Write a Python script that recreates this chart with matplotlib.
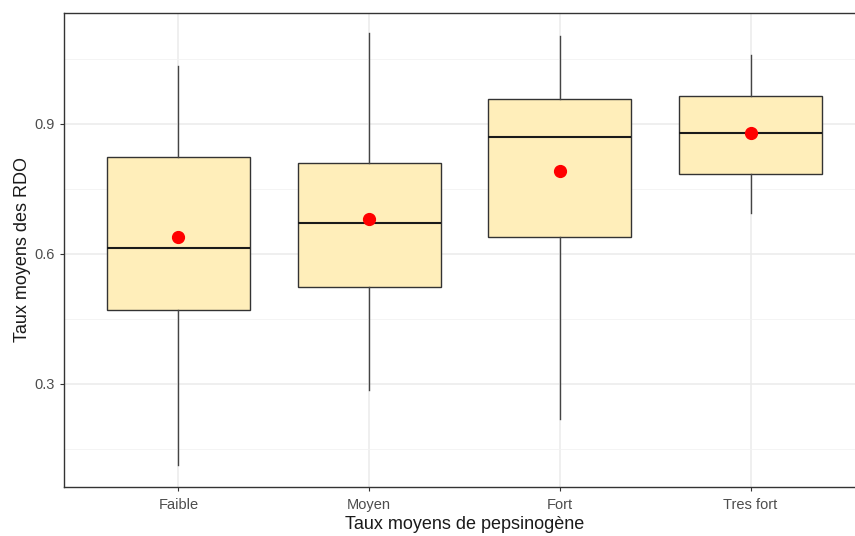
import matplotlib
matplotlib.use("Agg")
import matplotlib.pyplot as plt
from matplotlib.ticker import FixedLocator

plt.rcParams["font.family"] = ["Liberation Sans", "DejaVu Sans"]

# Data
categories = ["Faible", "Moyen", "Fort", "Tres fort"]
whisker_low = [0.113, 0.286, 0.219, 0.695]
q1 = [0.471, 0.524, 0.639, 0.785]
median = [0.614, 0.672, 0.870, 0.879]
q3 = [0.824, 0.810, 0.958, 0.965]
whisker_high = [1.034, 1.110, 1.103, 1.059]
means = [0.639, 0.681, 0.792, 0.879]

positions = list(range(1, len(categories) + 1))

stats = []
for i, name in enumerate(categories):
    stats.append({
        "label": name,
        "whislo": whisker_low[i],
        "q1": q1[i],
        "med": median[i],
        "q3": q3[i],
        "whishi": whisker_high[i],
        "fliers": [],
    })

fig = plt.figure(figsize=(8.55, 5.36), dpi=100)
ax = fig.add_axes([64 / 855, 49 / 536, 801 / 855, 474 / 536])

# grid first, theme_bw style
ax.set_axisbelow(True)
ax.yaxis.set_major_locator(FixedLocator([0.3, 0.6, 0.9]))
ax.yaxis.set_minor_locator(FixedLocator([0.15, 0.45, 0.75, 1.05]))
ax.grid(which="major", color="#EBEBEB", linewidth=1.1)
ax.grid(which="minor", axis="y", color="#F2F2F2", linewidth=0.6)

bp = ax.bxp(
    stats, positions=positions, widths=0.75, patch_artist=True,
    showcaps=False, showfliers=False,
    boxprops=dict(facecolor="#FFEEBA", edgecolor="#333333", linewidth=1.0),
    medianprops=dict(color="#1a1a1a", linewidth=1.5),
    whiskerprops=dict(color="#444444", linewidth=1.0),
)

ax.plot(positions, means, linestyle="none", marker="o", markersize=8.5,
        color="#FF0000", zorder=5)

ax.set_xlim(0.4, 4.6)
ax.set_ylim(0.062, 1.156)
ax.set_xticks(positions)
ax.set_xticklabels(categories)

for side in ["top", "bottom", "left", "right"]:
    ax.spines[side].set_color("#333333")
    ax.spines[side].set_linewidth(1.0)

ax.tick_params(axis="both", which="major", colors="#333333", labelcolor="#4D4D4D",
               labelsize=10.5, length=3, width=0.8, pad=4)
ax.tick_params(axis="x", which="major", pad=5)
ax.tick_params(axis="y", which="minor", length=0)

ax.set_xlabel("Taux moyens de pepsinogène", fontsize=13, color="#1a1a1a", labelpad=3)
ax.set_ylabel("Taux moyens des RDO", fontsize=13, color="#1a1a1a", labelpad=2)

fig.savefig("out.png", dpi=100)
